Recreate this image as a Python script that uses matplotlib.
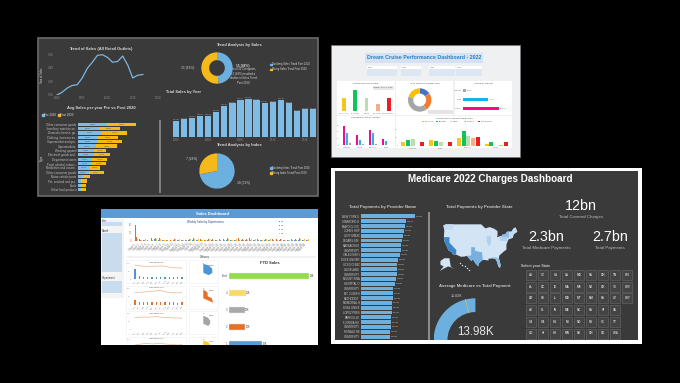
import matplotlib
matplotlib.use('Agg')
from matplotlib import pyplot as plt
from matplotlib.patches import Rectangle, Wedge
import numpy as np

BLUE = '#6cb0e0'
GOLD = '#f6b91a'
DARK = '#3a3a3a'

# Retail panel
trend_years = list(range(2000, 2018))
trend_sales = [0, .04, .10, .14, .15, .25, .39, .48, .58, .59, .55, .48, .49, .57, .44, .25, .29, .30]
year_labels = [str(y) for y in range(2000, 2018)]
total_sales = [.64, .71, .78, .85, .85, 1.01, 1.25, 1.36, 1.51, 1.53, 1.48, 1.37, 1.40, 1.51, 1.36, 1.04, 1.12, 1.12]
sector_names = ['Other consumer goods', 'Jewellery, watches an..', 'Domestic furnish. go..', 'Clothing, footwear an..',
                'Supermarket and gro..', 'Supermarkets', 'Wearing apparel', 'Electrical goods and..',
                'Department stores', 'Food, alcohol, tobacc..', 'Medicines and cosme..', 'Other consumer goods',
                'Motor vehicle parts', 'Pet, seafood and pro..', 'Fuels', 'Other food products']
sector_pre = [88, 62, 73, 58, 60, 55, 48, 48, 42, 40, 35, 32, 15, 10, 10, 10]
sector_post = [85, 63, 75, 62, 72, 62, 37, 47, 46, 43, 30, 46, 20, 17, 15, 13]
donut_sales = [15, 16]
pie_index = [18, 7]

# Cruise panel
cruise_cats = ['Excursions', 'Beverage', 'Dining', 'Shopping', 'Entertainment']
cruise_income = [42, 64, 42, 22, 42]
cruise_colors = ['#f8c51c', '#10c45c', '#b9dfb0', '#f2b184', '#ee1c25']
cabin_share = [15, 25, 40, 20]
cabin_colors = ['#4472c4', '#ed7d31', '#a5a5a5', '#ffc000']
spend_cats = ['Outside', 'Suite', 'Ocean']
spend_vals = [10, 75, 108]
spend_colors = ['#a5a5a5', '#12b5e8', '#ec0e8c']
age_cats = ['Outside', 'Inside', 'Balcony', 'Suite']
age_pink = [58, 32, 46, 18]
age_cyan = [38, 16, 38, 13]
age_grey = [6, 3, 3, 1]
cabin_groups = ['Outside', 'Suite', 'Balcony', 'Inside']
cabin_yellow = [12, 18, 25, 6]
cabin_green = [18, 15, 46, 13]
cabin_light = [20, 13, 30, 1]
cabin_peach = [1, 1, 23, 2]
cabin_red = [12, 13, 28, 12]

# Medicare panel
provider_names = ['NEW YORK U', 'STANFORD H', 'MAYO CLINIC', 'JOHNS HOP', 'LEVY MEDIC', 'CEDARS-SIN', 'MASSACHUS',
                  'UNIVERSITY', 'YALE-NEW H', 'DUCK UNIVER', 'UCSD CLINIC', 'CLEVELAND', 'UNIVERSITY', 'MOUNT SINA',
                  'HOSPITAL O', 'UNIVERSITY', 'MT. JOSEPH', 'METHODIST', 'MEMORIAL H', 'DUKE UNIVE', 'LOPEZ PRES',
                  'BARNES-JE', 'FLORIDA HO', 'UNIVERSITY', 'RONALD RE', 'UNIVERSITY']
provider_pay = [162, 135, 132, 130, 126, 122, 119, 119, 117, 110, 109, 108, 107, 105, 103, 97, 96, 95, 94, 93, 92, 91, 90, 90, 88, 87]
provider_labels = ['0.13M', '0.11M', '0.10M', '0.10M', '0.10M', '0.09M', '0.09M', '0.09M', '0.09M', '0.08M', '0.08M', '0.08M', '0.08M',
                   '0.08M', '0.08M', '0.07M', '0.07M', '0.07M', '0.07M', '0.07M', '0.07M', '0.07M', '0.07M', '0.07M', '0.07M', '0.06M']
state_rows = [['AK', 'CT', 'IA', 'LA', 'MO', 'NV', 'OH', 'TN', 'WI'],
              ['AL', 'DC', 'ID', 'MA', 'MS', 'NJ', 'OK', 'TX', 'WV'],
              ['AR', 'DE', 'IL', 'MD', 'MT', 'NM', 'PA', 'UT', 'WY'],
              ['AZ', 'FL', 'IN', 'ME', 'NC', 'NV', 'RI', 'VA'],
              ['CA', 'GA', 'KS', 'MI', 'ND', 'NY', 'SC', 'VT'],
              ['CO', 'HI', 'KY', 'MN', 'NE', 'OH', 'SD', 'WA']]
gauge_value = 13.98
gauge_target = 11.82
gauge_max = 27.96
usa_shape = [(-124.7, 48.4), (-122.8, 49), (-95.2, 49), (-92, 46.8), (-88.5, 47.5), (-84.8, 46.5), (-82.5, 45.3), (-82.4, 43),
             (-83, 42), (-79, 42.8), (-79, 43.3), (-76.5, 43.5), (-75, 45), (-71.5, 45), (-70, 46.7), (-68.5, 47.3), (-67, 45),
             (-70, 43.5), (-70.5, 41.7), (-74, 40.7), (-75.5, 38), (-75.5, 35.2), (-78, 33.9), (-81, 32), (-81.4, 30.5), (-80, 26.8),
             (-80.5, 25.2), (-81.8, 26), (-82.8, 28.5), (-84, 30), (-86, 30.4), (-89.5, 30.2), (-89.5, 29.2), (-91.5, 29.5),
             (-94, 29.6), (-97.3, 27.5), (-97.3, 26), (-99.5, 27.5), (-101.5, 29.8), (-103, 29), (-104.8, 30.5), (-106.5, 31.8),
             (-108.2, 31.4), (-111, 31.3), (-114.8, 32.5), (-117.1, 32.5), (-118.5, 34), (-120.6, 34.6), (-122, 36.8), (-123.8, 39.5),
             (-124.3, 42), (-124, 46)]
california = [(-124.3, 42), (-120, 42), (-120, 39), (-114.6, 35), (-114.8, 32.5), (-117.1, 32.5), (-118.5, 34), (-120.6, 34.6), (-122, 36.8), (-123.8, 39.5)]
texas = [(-106.5, 31.8), (-103, 32), (-103, 36.5), (-100, 36.5), (-100, 34.5), (-94.5, 33.7), (-94, 29.6), (-97.3, 27.5), (-97.3, 26), (-99.5, 27.5), (-101.5, 29.8), (-103, 29), (-104.8, 30.5)]
florida = [(-87.5, 31), (-85, 31), (-82, 30.6), (-81.4, 30.5), (-80, 26.8), (-80.5, 25.2), (-81.8, 26), (-82.8, 28.5), (-84, 30), (-86, 30.4)]
new_york = [(-79.7, 42), (-75, 42), (-73.6, 41), (-73.4, 45), (-75, 45), (-76.5, 43.5), (-79, 43.3), (-79, 42.8)]
illinois = [(-91, 42.5), (-87.6, 42.5), (-87.6, 38.5), (-89, 37), (-91, 39.5)]
pennsylvania = [(-80.5, 42), (-75, 42), (-75, 39.8), (-80.5, 39.8)]
washington = [(-124.7, 48.4), (-122.8, 49), (-117, 49), (-117, 46), (-124, 46)]
new_england = [(-73.4, 45), (-71.5, 45), (-70, 46.7), (-68.5, 47.3), (-67, 45), (-70, 43.5), (-70.5, 41.7), (-73.6, 41)]
alaska = [(-127, 29), (-124, 30.5), (-120, 30.5), (-119, 26), (-116, 24.5), (-118.5, 25.5), (-121, 26), (-124, 25), (-127.5, 23.5), (-124.5, 26), (-127, 27)]
hawaii_lon = [-112, -110, -108, -106, -105]
hawaii_lat = [28, 27, 26.5, 25, 24.3]

# Sales panel
stores = ['Store %d' % n for n in range(1, 47)]
dept_a = [40, 6, 3, 2, 3, 4, 3, 3, 3, 3, 2, 2, 3, 2, 3, 2, 3, 3, 2, 2, 3, 2, 17, 3, 3, 2, 3, 4, 3, 3, 8, 3, 3, 3, 2, 3, 3, 2, 2, 3, 2, 3, 3, 2, 3, 3]
dept_b = [11, 3, 7, 2, 8, 8, 8, 4, 3, 2, 6, 6, 3, 3, 5, 8, 5, 4, 3, 6, 4, 3, 6, 5, 8, 4, 6, 8, 5, 4, 6, 5, 4, 3, 6, 7, 5, 6, 6, 4, 5, 6, 4, 8, 7, 7]
dept_c = [4, 2, 3, 1, 3, 3, 4, 2, 2, 1, 2, 3, 2, 2, 2, 3, 2, 2, 2, 3, 2, 2, 3, 2, 3, 2, 3, 3, 2, 2, 3, 2, 2, 1, 3, 3, 2, 2, 3, 2, 2, 3, 2, 3, 3, 3]
dept_d = [6, 2, 5, 1, 6, 6, 6, 2, 3, 2, 5, 5, 2, 2, 4, 6, 4, 3, 2, 4, 3, 2, 5, 3, 6, 3, 5, 6, 4, 3, 4, 4, 2, 2, 4, 5, 3, 5, 4, 3, 3, 5, 3, 6, 6, 6]
months = ['Jan', 'Feb', 'Mar', 'Apr', 'May', 'Jun', 'Jul', 'Aug', 'Sep', 'Oct', 'Nov', 'Dec']
dept1_line = [88, 82, 80, 78, 80, 80, 82, 80, 74, 70, 70, 68]
dept1_bars = [60, 16, 15, 15, 15, 15, 15, 15, 15, 15, 15, 15]
dept2_line = [75, 76, 78, 80, 82, 86, 88, 80, 76, 74, 72, 76]
dept2_bars = [26, 15, 14, 14, 15, 14, 15, 15, 14, 14, 12, 15]
dept3_line = [76, 80, 81, 80, 82, 84, 80, 78, 80, 74, 76, 72]
dept3_bars = [3, 2, 2, 2, 2, 2, 2, 2, 2, 2, 2, 2]
dept4_line = [66, 70, 74, 76, 72, 74, 76, 72, 70, 68, 66, 68]
dept4_bars = [20, 15, 15, 15, 15, 15, 15, 15, 15, 15, 15, 15]
dept_colors = ['#4f94d4', '#e4702a', '#a5a5a5', '#ffc828']
radar_r = [[1.0, .95, .9, .8, .55, .25], [1.0, .75, .45, .75, 1.0, .3], [.9, .8, .7, .6, .5, .2], [1.0, .9, .8, .6, .4, .2]]
ftd_names = ['Total', '4', '3', '2', '1']
ftd_sales = [240, 50, 47, 49, 99]
ftd_labels = ['99K', '21K', '20K', '20K', '42K']
ftd_colors = ['#92dc4a', '#ffd966', '#a9a9a9', '#e4702a', '#5b9bd5']

fig = plt.figure(figsize=(6.8, 3.83), dpi=100, facecolor='black')
plt.rcParams['font.family'] = ['Liberation Sans', 'DejaVu Sans']


def inset(x0, y0, x1, y1):
    # position in picture pixels, y from the top
    ax = fig.add_axes([x0 / 680, 1 - y1 / 383, (x1 - x0) / 680, (y1 - y0) / 383])
    ax.patch.set_alpha(0)
    ax.set_axis_off()
    return ax


base = fig.add_axes([0, 0, 1, 1], zorder=-1)
base.set_xlim(0, 680)
base.set_ylim(383, 0)
base.set_axis_off()


def box(x0, y0, x1, y1, color, edge='none', lw=0):
    base.add_patch(Rectangle((x0, y0), x1 - x0, y1 - y0, facecolor=color, edgecolor=edge, linewidth=lw))


def label(x, y, s, size=2.6, color='#d8d8d8', ha='center', weight='normal', **kw):
    base.text(x, y, s, fontsize=size, color=color, ha=ha, va='center', fontweight=weight, **kw)


def dark_axis(ax, grey='#8a8a8a'):
    ax.set_axis_on()
    for side in ax.spines:
        ax.spines[side].set_visible(False)
    ax.tick_params(length=0, labelsize=2.2, labelcolor=grey, pad=1)


# ---- retail dashboard ----
box(38, 38, 318, 196, DARK, '#6b6b6b', 1.2)
label(101, 49, 'Trend of Sales (All Retail Outlets)', 2.9, weight='bold')
label(239, 45, 'Trend Analysis by Sales', 2.9, weight='bold')
label(183, 92, 'Total Sales by Year', 2.9, weight='bold')
label(101, 108, 'Avg Sales per year Pre vs Post 2020', 2.9, weight='bold')
label(239, 145, 'Trend Analysis by Index', 2.9, weight='bold')

ax = inset(55, 54, 158, 95)
dark_axis(ax)
ax.plot(trend_years, trend_sales, color='#7db6de', lw=.9)
ax.set_xlim(1999.6, 2020)
ax.set_ylim(0, .6)
ax.set_xticks([2000, 2005, 2010, 2015, 2020])
ax.set_yticks([0, .2, .4, .6])
ax.set_yticklabels(['0.00', '0.20', '0.40', '0.60'])
label(42, 75, 'Sum of Sales', 1.9, rotation=90)

ax = inset(201, 52, 233, 84)
ax.pie(donut_sales, colors=[BLUE, GOLD], startangle=90, counterclock=False, radius=1,
       wedgeprops={'width': .5, 'linewidth': 0})
ax.set_xlim(-1.02, 1.02)
ax.set_ylim(-1.02, 1.02)
label(188, 68, '15 (52%)', 2.3)
label(243, 66.5, '15 (48%)', 2.3, weight='bold')
label(243, 76, 'Out of 31 Categories,\n15 (48%) resulted a\ndecline in Sales Trend\nPost 2020', 2)

ax = inset(171, 95, 318, 137)
dark_axis(ax)
ax.bar(range(len(total_sales)), total_sales, width=.78, color='#7dbce6')
ax.set_xlim(-.6, 17.6)
ax.set_ylim(0, 1.7)
ax.set_xticks(range(0, 18, 4))
ax.set_xticklabels([year_labels[i] for i in range(0, 18, 4)])
ax.set_yticks([])
for i, v in enumerate(total_sales):
    ax.text(i, v + .03, '%.2fM' % v, fontsize=1.7, color='#a8a8a8', ha='center', va='bottom')

ax = inset(78, 122, 158, 192)
dark_axis(ax)
rows = np.arange(len(sector_names))
ax.barh(rows, sector_pre, height=.76, color='#7dbce6')
ax.barh(rows, sector_post, left=sector_pre, height=.76, color=GOLD)
ax.set_yticks(rows)
ax.set_yticklabels(sector_names, fontsize=2.1, color='#c0c0c0')
ax.set_xticks([])
ax.set_xlim(0, 240)
ax.set_ylim(15.5, -.5)
for i in range(12):
    ax.text(sector_pre[i] / 2, i, '%.2fM' % (sector_pre[i] / 100), fontsize=1.6, color='#4a5a68', ha='center', va='center')
    ax.text(sector_pre[i] + sector_post[i] / 2, i, '%.2fM' % (sector_post[i] / 100), fontsize=1.6, color='#6a5a20', ha='center', va='center')
label(42, 158, 'Type', 2.1, rotation=90)
base.add_patch(Rectangle((42, 114), 1.6, 1.6, color='#7dbce6'))
label(44.5, 115, 'Pre 2020', 2.2, ha='left')
base.add_patch(Rectangle((58, 114), 1.6, 1.6, color=GOLD))
label(60.5, 115, 'Post 2020', 2.2, ha='left')
box(159.3, 120, 160.7, 193, '#7d7d7d')

ax = inset(199, 153, 235, 189)
ax.pie(pie_index, colors=[BLUE, GOLD], startangle=90, counterclock=False, radius=1, wedgeprops={'linewidth': 0})
ax.set_xlim(-1.02, 1.02)
ax.set_ylim(-1.02, 1.02)
label(191.5, 159, '7 (28%)', 2.3)
label(244, 183, '18 (72%)', 2.3)

for y, top in ((64.3, 'Sales'), (168, 'Index')):
    base.add_patch(Rectangle((270, y - .8), 1.6, 1.6, color=BLUE))
    label(272.5, y, 'Declining %s Trend Post 2020' % top, 1.9, ha='left')
    base.add_patch(Rectangle((270, y + 4.2), 1.6, 1.6, color=GOLD))
    label(272.5, y + 5, 'Rising %s Trend Post 2020' % top, 1.9, ha='left')

# ---- cruise dashboard ----
box(331, 45, 520, 157, '#eef0f2', '#777777', .6)
box(365, 53, 483, 63, '#d6e2f3')
label(424, 57.5, 'Dream Cruise Performance Dashboard - 2022', 3.75, '#1f82c9', weight='bold')
for x0, x1 in ((367, 397), (401, 421), (429, 455), (456, 482)):
    box(x0, 65.5, x1, 76, '#ffffff')
    box(x0, 69, x1, 76, '#dde7f3')
    label(x0 + 1, 67, 'Filter', 1.7, '#555555', ha='left')
box(337, 81, 395, 115, 'white')
box(396, 81, 453, 115, 'white')
box(455, 81, 512, 115, 'white')
box(337, 116, 395, 148, 'white')
box(396, 116, 512, 148, 'white')
label(366, 83.5, 'Satisfaction Score/Dine', 1.7, '#444444')
label(425, 83.5, 'Total Sales/Port Cabin Type', 1.7, '#444444')
label(484, 83.5, 'Spend by Gender', 1.7, '#444444')
label(366, 117.5, 'Spending Score by Gender', 1.7, '#444444')
label(454, 118, 'Satisfaction score/Top Cabin Type', 1.7, '#444444')
box(373, 86, 394, 90, '#e8e8e8')
label(383, 88, 'Overall Score: 3.56', 1.6, '#555555')
box(428, 110, 453, 113.5, '#e4e4e4')

ax = inset(340, 90, 393, 111.3)
dark_axis(ax, '#777777')
ax.bar(cruise_cats, cruise_income, width=.36, color=cruise_colors)
ax.set_ylim(0, 65)
ax.set_yticks([])
ax.tick_params(labelsize=1.5)

ax = inset(408, 88.3, 431.4, 111.7)
ax.pie(cabin_share, colors=cabin_colors, startangle=90, counterclock=False, wedgeprops={'width': .45, 'linewidth': 0})
ax.set_xlim(-1, 1)
ax.set_ylim(-1, 1)

ax = inset(463, 86.3, 512, 112.7)
dark_axis(ax, '#777777')
ax.barh(spend_cats, spend_vals, height=.38, color=spend_colors)
ax.set_ylim(2.5, -.5)
ax.set_xlim(0, 147)
ax.set_xticks([])
ax.tick_params(labelsize=1.6)
for i, v in enumerate(spend_vals):
    ax.text(v + 2, i, '%d.0K' % v, fontsize=1.6, color='#666666', va='center')

ax = inset(340.5, 121, 392.5, 145.3)
dark_axis(ax, '#777777')
x = np.arange(4)
ax.bar(x - .24, age_pink, width=.2, color='#ec0e8c')
ax.bar(x, age_cyan, width=.2, color='#2fb0e8')
ax.bar(x + .24, age_grey, width=.2, color='#a5a5a5')
ax.set_xticks(x)
ax.set_xticklabels(age_cats, fontsize=1.6)
ax.set_xlim(-.5, 3.5)
ax.set_ylim(0, 73)
ax.set_yticks([0, 20, 40, 60])
ax.tick_params(axis='y', labelsize=1.5)

ax = inset(399, 122, 510, 146)
dark_axis(ax, '#777777')
x = np.arange(4)
series = [cabin_yellow, cabin_green, cabin_light, cabin_peach, cabin_red]
for i, vals in enumerate(series):
    ax.bar(x + (i - 2) * .17, vals, width=.14, color=cruise_colors[i])
ax.set_xticks(x)
ax.set_xticklabels(cabin_groups, fontsize=1.6)
ax.set_xlim(-.5, 3.5)
ax.set_ylim(0, 72)
ax.set_yticks([0, 25, 50])
ax.tick_params(axis='y', labelsize=1.5)
for i, name in enumerate(cruise_cats):
    lx = 422 + i * 14
    box(lx, 120.5, lx + 2, 121.5, cruise_colors[i])
    label(lx + 2.6, 121, name, 1.4, '#666666', ha='left')

# ---- medicare dashboard ----
box(331, 168, 642, 343.5, 'white')
box(335, 171, 638, 340, DARK)
label(490, 179.5, 'Medicare 2022 Charges Dashboard', 7.1, 'white', weight='bold')
label(383, 207, 'Total Payments by Provider Name', 3.1, '#c8c8c8', weight='bold')
label(479, 207, 'Total Payments by Provider State', 3.1, '#c8c8c8', weight='bold')
label(475, 286, 'Average Medicare vs Total Payment', 3.1, '#c8c8c8', weight='bold')
label(581, 206, '12bn', 10.3, 'white')
label(581, 217, 'Total Covered Charges', 3.2, '#bdbdbd')
label(546, 237, '2.3bn', 10.3, 'white')
label(546, 248, 'Total Medicare Payments', 3.2, '#bdbdbd')
label(610, 237, '2.7bn', 10.3, 'white')
label(610, 248, 'Total Payments', 3.2, '#bdbdbd')
box(428, 212, 429.5, 340, '#8c8c8c')

ax = inset(361, 214, 428, 339)
dark_axis(ax)
rows = np.arange(len(provider_names))
ax.barh(rows, provider_pay, height=.8, color='#6cb0e0')
ax.set_yticks(rows)
ax.set_yticklabels(provider_names, fontsize=1.9, color='#cfcfcf')
ax.set_xticks([])
ax.set_xlim(0, 201)
ax.set_ylim(25.5, -.5)
for i, v in enumerate(provider_pay):
    ax.text(v + 3, i, provider_labels[i], fontsize=1.7, color='#c8c8c8', va='center')

ax = inset(437.9, 222.5, 518.6, 273.8)
ax.fill(*zip(*usa_shape), color='#d3e5f5', lw=0)
ax.fill(*zip(*california), color='#3f86c9', lw=0)
ax.fill(*zip(*texas), color='#78aee0', lw=0)
ax.fill(*zip(*florida), color='#8fbde6', lw=0)
ax.fill(*zip(*new_york), color='#8fbde6', lw=0)
ax.fill(*zip(*illinois), color='#b0d0ee', lw=0)
ax.fill(*zip(*pennsylvania), color='#b0d0ee', lw=0)
ax.fill(*zip(*washington), color='#c4dcf2', lw=0)
ax.fill(*zip(*new_england), color='#c4dcf2', lw=0)
ax.fill(*zip(*alaska), color='#d3e5f5', lw=0)
ax.scatter(hawaii_lon, hawaii_lat, s=1, color='#d3e5f5', lw=0)
ax.set_xlim(-129, -66)
ax.set_ylim(22, 50)

ax = inset(433.7, 298.3, 517.1, 340)
ax.set_xlim(-1, 1)
ax.set_ylim(0, 1)
ax.add_patch(Wedge((0, 0), 1, 180 - 180 * gauge_value / gauge_max, 180, width=.33, color='#6cb0e0', lw=0))
t = np.radians(180 - 180 * gauge_target / gauge_max)
ax.plot([.67 * np.cos(t), np.cos(t)], [.67 * np.sin(t), np.sin(t)], color='#c9bc7c', lw=.6)
label(457, 296, '11.82K', 2.7, '#c8c8c8')
label(475, 332, '13.98K', 8.4, '#e6e6e6')

label(521, 266.5, 'Select your State', 2.6, '#c8c8c8', ha='left', weight='bold')
for r, states in enumerate(state_rows):
    for c, st in enumerate(states):
        cx = 531 + c * 12
        cy = 275 + r * 11.7
        box(cx - 5.3, cy - 5, cx + 5.3, cy + 5, '#444444', '#6a6a6a', .4)
        label(cx, cy, st, 2.2, '#c8c8c8', weight='bold')

# ---- sales dashboard ----
box(101, 209, 318, 345, 'white')
box(101, 209, 318, 218, '#5b9bd5')
label(212, 214, 'Sales Dashboard', 3, 'white', weight='bold')
box(101, 219, 124, 298, '#f4f4f4')
label(102, 220.5, 'Year', 1.9, '#444444', ha='left')
box(102, 222, 122, 226, '#c9dcee')
label(102, 231, 'Month', 1.9, '#444444', ha='left')
box(102, 233, 122, 272, '#c9dcee')
label(102, 278, 'Department', 1.9, '#444444', ha='left')
box(102, 281, 122, 293, '#c9dcee')
label(205, 221.5, 'Weekly Sales by Departments', 2, '#444444')
box(127, 256, 316, 258, '#f2f2f2')
label(205, 257.3, 'Delivery', 2, '#444444')
label(270, 263, 'FTD Sales', 3, '#333333', weight='bold')

ax = inset(133, 223, 311, 241)
dark_axis(ax, '#777777')
x = np.arange(len(stores))
for i, vals in enumerate([dept_a, dept_b, dept_c, dept_d]):
    ax.bar(x + (i - 1.5) * .18, vals, width=.18, color=dept_colors[i])
ax.set_xticks(x)
ax.set_xticklabels(stores, rotation=45, ha='right', fontsize=1.9)
ax.set_xlim(-1, 46)
ax.set_ylim(0, 45)
ax.set_yticks([0, 20, 40])
ax.tick_params(axis='y', labelsize=1.8, labelcolor='#e4702a')
for i, name in enumerate(['D1', 'D2', 'D3', 'D4']):
    box(279, 220.5 + i * 4, 280, 221.5 + i * 4, dept_colors[i])
    label(281, 221 + i * 4, name, 1.7, '#555555', ha='left')

dept_series = [(dept1_line, dept1_bars), (dept2_line, dept2_bars), (dept3_line, dept3_bars), (dept4_line, dept4_bars)]
for i, (line, bars) in enumerate(dept_series):
    y0 = 260 + i * 25.5
    box(126, y0, 186, y0 + 23, 'white', '#eeeeee', .4)
    box(189, y0, 218, y0 + 23, 'white', '#eeeeee', .4)
    label(156, y0 + 2, 'Department %d' % (i + 1), 1.7, '#555555')
    ax = inset(132, y0 + 3, 185, y0 + 19)
    dark_axis(ax, '#888888')
    ax.plot(months, line, color='#eeb48c', lw=.5)
    ax.bar(months, bars, width=.3, color=dept_colors[i])
    ax.set_ylim(0, 100)
    ax.set_yticks([0, 50, 100])
    ax.tick_params(axis='x', labelsize=1.6, rotation=45)
    ax.tick_params(axis='y', labelsize=1.5)
    ax = inset(201, y0 + 3, 217, y0 + 19)
    ang = np.radians([90, 60, 30, 0, -30, 90])
    r = np.array(radar_r[i]) * [1, 1, 1, 1, 1, 0]
    ax.fill(r * np.cos(ang), r * np.sin(ang), color=dept_colors[i], lw=0)
    ax.set_xlim(-.2, 1.2)
    ax.set_ylim(-.7, 1.1)
    label(204, y0 + 3, str(i + 1), 1.7, '#555555')
    label(212, y0 + 5, '$%dK' % (40 - i * 5), 1.7, '#555555')

ax = inset(229, 268, 318, 345)
dark_axis(ax, '#555555')
rows = np.arange(len(ftd_names))
ax.barh(rows, ftd_sales, height=.34, color=ftd_colors, edgecolor='#e8e8e8', lw=.3)
ax.set_yticks(rows)
ax.set_yticklabels(ftd_names, fontsize=2)
ax.set_xticks([])
ax.set_xlim(0, 267)
ax.set_ylim(4.06, -.47)
for i, v in enumerate(ftd_sales):
    ax.text(v + 2, i, ftd_labels[i], fontsize=1.8, color='#444444', va='center', clip_on=True)

# the dashboard screenshot is cut off at its lower edge
cover = inset(98, 345, 325, 383)
cover.add_patch(Rectangle((0, 0), 1, 1, color='black', transform=cover.transAxes))
cover.set_zorder(10)

fig.savefig('out.png', dpi=100, facecolor='black')
